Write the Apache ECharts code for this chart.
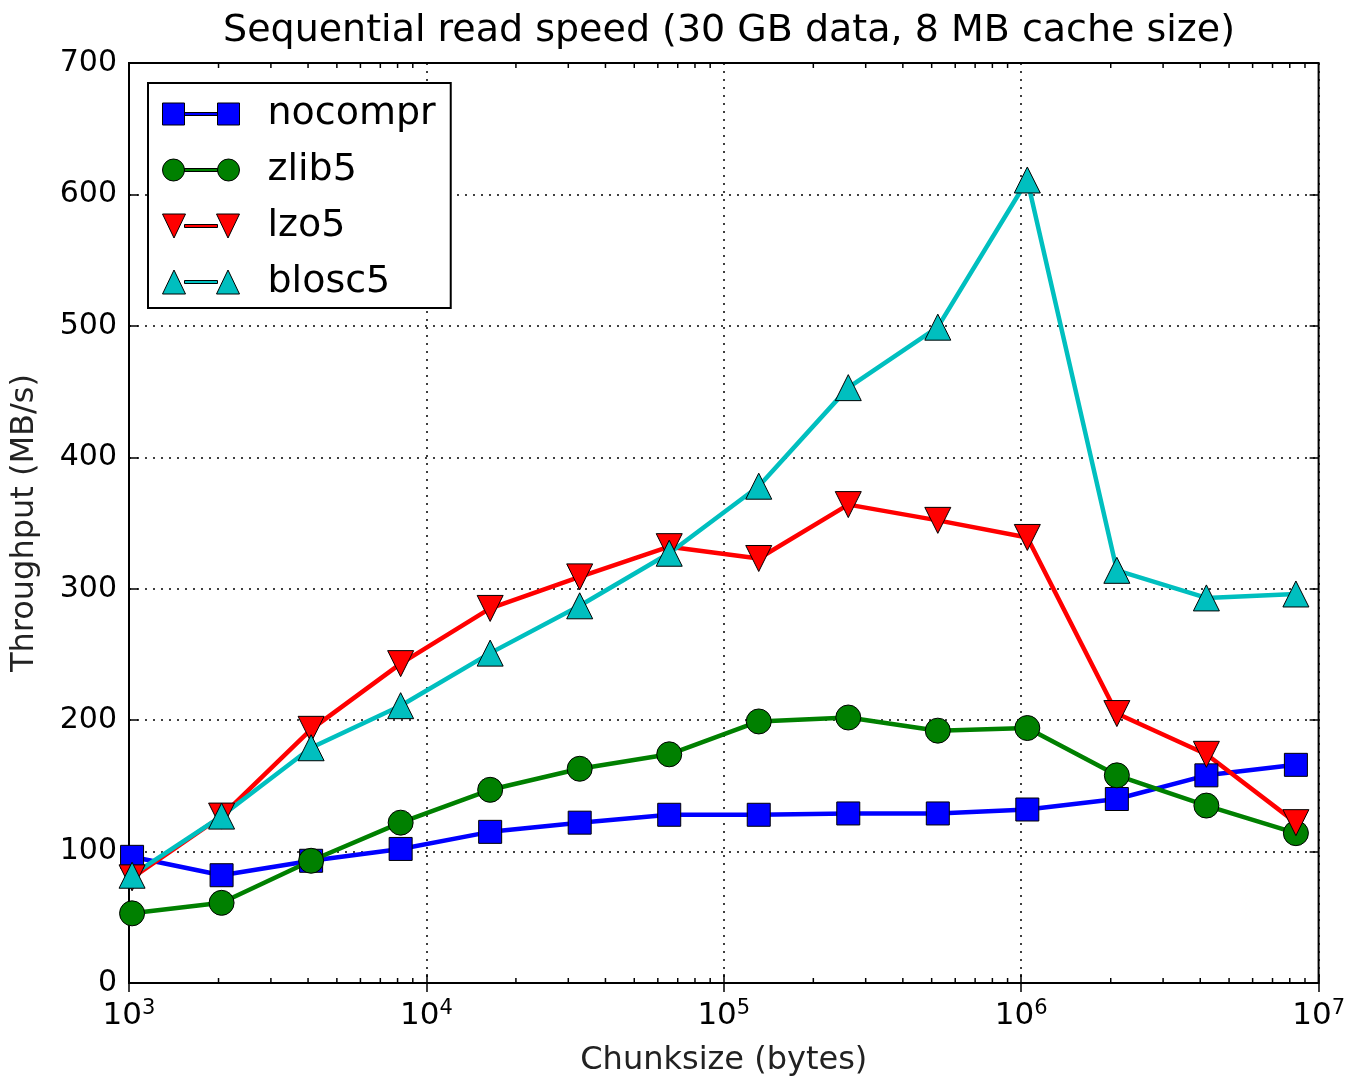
<!DOCTYPE html>
<html>
<head>
<meta charset="utf-8">
<script src="https://cdn.jsdelivr.net/npm/echarts@6/dist/echarts.min.js"></script>
<style>
  html, body { margin: 0; padding: 0; background: #fff; }
  #chart { width: 1348px; height: 1082px; }
</style>
</head>
<body>
<div id="chart"></div>
<script>
// chunk sizes in bytes (2^10 .. 2^23)
const chunksizes = [1024, 2048, 4096, 8192, 16384, 32768, 65536, 131072,
  262144, 524288, 1048576, 2097152, 4194304, 8388608];

// throughput in MB/s
const nocompr = [96, 82, 93, 102, 115, 122, 128, 128, 129, 129, 132, 140, 158, 166];
const zlib5 = [53, 61, 93, 122, 147, 163, 174, 199, 202, 192, 194, 158, 135, 114];
const lzo5 = [80, 127, 193, 243, 285, 309, 332, 323, 364, 352, 339, 205, 174, 122];
const blosc5 = [82, 127, 179, 211, 251, 287, 327, 378, 453, 499, 611, 314, 293, 296];

const yTicks = [0, 100, 200, 300, 400, 500, 600, 700];
const decades = [1e3, 1e4, 1e5, 1e6];
const minorMult = [2, 3, 4, 5, 6, 7, 8, 9];

const FONT = "DejaVu Sans";

// legend icons: marker - line - marker, like matplotlib's legend
const BAR = "M22,10.5H55V13.5H22Z";
const icons = {
  rect: "path://M0,1H22V23H0Z" + BAR + "M55,1H77V23H55Z",
  circle: "path://M0,12A11,11,0,1,1,22,12A11,11,0,1,1,0,12Z" + BAR +
    "M55,12A11,11,0,1,1,77,12A11,11,0,1,1,55,12Z",
  down: "path://M0,0H23L11.5,24Z" + BAR + "M54,0H77L65.5,24Z",
  up: "path://M11.5,0L23,24H0Z" + BAR + "M65.5,0L77,24H54Z"
};

const pairs = ys => chunksizes.map((x, i) => [x, ys[i]]);

const minorTicks = [];
decades.forEach(d => minorMult.forEach(m => minorTicks.push([d * m, 0])));

function lineSeries(name, ys, color, symbol, size, rotate) {
  return {
    name: name,
    type: "line",
    data: pairs(ys),
    xAxisIndex: 0,
    yAxisIndex: 0,
    symbol: symbol,
    symbolSize: size,
    symbolRotate: rotate || 0,
    showAllSymbol: true,
    lineStyle: { color: color, width: 4.5 },
    itemStyle: { color: color, borderColor: "#000", borderWidth: 1 },
    emphasis: { disabled: true }
  };
}

const chart = echarts.init(document.getElementById("chart"), null, { renderer: "canvas" });

chart.setOption({
  animation: false,
  backgroundColor: "#fff",
  textStyle: { fontFamily: FONT, color: "#000" },
  title: {
    text: "Sequential read speed (30 GB data, 8 MB cache size)",
    left: 724,
    textAlign: "center",
    top: 7,
    textStyle: { fontFamily: FONT, fontSize: 38, fontWeight: "normal", color: "#000" }
  },
  grid: {
    left: 129, right: 29, top: 63, bottom: 96,
    show: true, borderColor: "#000", borderWidth: 2, backgroundColor: "#fff"
  },
  legend: {
    data: [
      { name: "nocompr", icon: icons.rect },
      { name: "zlib5", icon: icons.circle },
      { name: "lzo5", icon: icons.down },
      { name: "blosc5", icon: icons.up }
    ],
    orient: "vertical",
    left: 148,
    top: 83,
    padding: [12, 15, 7, 14],
    itemGap: 18,
    itemWidth: 77,
    itemHeight: 24,
    backgroundColor: "#fff",
    borderColor: "#000",
    borderWidth: 2,
    borderRadius: 0,
    itemStyle: { borderColor: "#000", borderWidth: 1 },
    textStyle: { fontFamily: FONT, fontSize: 38, color: "#000", padding: [0, 0, 0, 23] }
  },
  xAxis: [{
    type: "log",
    logBase: 10,
    min: 1e3,
    max: 1e7,
    position: "bottom",
    axisLine: { show: false },
    axisTick: { show: true, inside: true, length: 9, lineStyle: { color: "#000", width: 1.5 } },
    axisLabel: {
      margin: 15,
      formatter: v => "10{sup|" + Math.round(Math.log10(v)) + "}",
      rich: {
        sup: { fontFamily: FONT, fontSize: 21, color: "#000", padding: [0, 0, 15, 0] }
      },
      fontFamily: FONT, fontSize: 31, color: "#000"
    },
    splitLine: { show: true, lineStyle: { color: "#000", width: 1.5, type: [2, 6] } },
    name: "Chunksize (bytes)",
    nameLocation: "middle",
    nameGap: 62,
    nameTextStyle: { fontFamily: FONT, fontSize: 32, color: "#222" }
  }, {
    type: "log",
    logBase: 10,
    min: 1e3,
    max: 1e7,
    position: "top",
    axisLine: { show: false },
    axisTick: { show: true, inside: true, length: 9, lineStyle: { color: "#000", width: 1.5 } },
    axisLabel: { show: false },
    splitLine: { show: false }
  }],
  yAxis: [{
    type: "value",
    min: yTicks[0],
    max: yTicks[yTicks.length - 1],
    interval: 100,
    position: "left",
    axisLine: { show: false },
    axisTick: { show: true, inside: true, length: 9, lineStyle: { color: "#000", width: 1.5 } },
    axisLabel: { margin: 12, fontFamily: FONT, fontSize: 30, color: "#000" },
    splitLine: { show: true, lineStyle: { color: "#000", width: 1.5, type: [2, 6] } },
    name: "Throughput (MB/s)",
    nameLocation: "middle",
    nameGap: 88,
    nameTextStyle: { fontFamily: FONT, fontSize: 32, color: "#222" }
  }, {
    type: "value",
    min: yTicks[0],
    max: yTicks[yTicks.length - 1],
    interval: 100,
    position: "right",
    axisLine: { show: false },
    axisTick: { show: true, inside: true, length: 9, lineStyle: { color: "#000", width: 1.5 } },
    axisLabel: { show: false },
    splitLine: { show: false }
  }],
  series: [
    {
      name: "_minor",
      type: "custom",
      xAxisIndex: 0,
      yAxisIndex: 0,
      silent: true,
      z: 1,
      data: minorTicks,
      renderItem: (params, api) => {
        const x = api.coord([api.value(0), 0])[0];
        const cs = params.coordSys;
        const style = { stroke: "#000", lineWidth: 1.5 };
        return {
          type: "group",
          children: [
            { type: "line", shape: { x1: x, y1: cs.y + cs.height, x2: x, y2: cs.y + cs.height - 5 }, style: style },
            { type: "line", shape: { x1: x, y1: cs.y, x2: x, y2: cs.y + 5 }, style: style }
          ]
        };
      }
    },
    lineSeries("nocompr", nocompr, "#0000ff", "rect", 23),
    lineSeries("zlib5", zlib5, "#008000", "circle", 25),
    lineSeries("lzo5", lzo5, "#ff0000", "triangle", 26, 180),
    lineSeries("blosc5", blosc5, "#00bfbf", "triangle", 26)
  ]
});
</script>
</body>
</html>
